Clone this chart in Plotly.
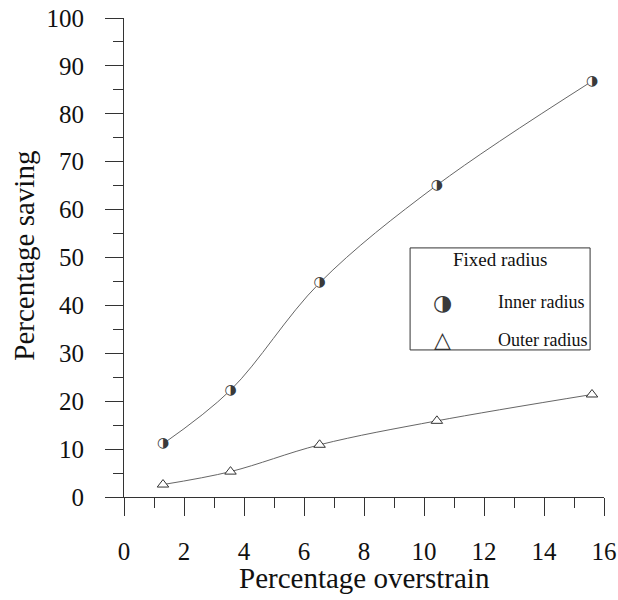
import plotly.graph_objects as go

# Data
overstrain = [1.3, 3.55, 6.52, 10.43, 15.6]
inner_saving = [11.1, 22.3, 44.7, 65.1, 86.8]
outer_saving = [2.6, 5.3, 10.9, 15.9, 21.4]

x_ticks = [0, 2, 4, 6, 8, 10, 12, 14, 16]
y_ticks = [0, 10, 20, 30, 40, 50, 60, 70, 80, 90, 100]

SERIF = "Liberation Serif, Times New Roman, serif"
INK = "#333333"
LINE = "#666666"

fig = go.Figure()

# Inner radius: spline line + white backing disc + half-filled circle glyph
fig.add_trace(go.Scatter(
    x=overstrain, y=inner_saving, mode="lines+markers+text",
    line=dict(shape="spline", color=LINE, width=1),
    marker=dict(symbol="circle", size=10, color="white", line=dict(width=0)),
    text=["◑"] * len(overstrain), textposition="middle center",
    textfont=dict(family="DejaVu Sans", size=14, color="#3a3a3a"),
    showlegend=False, hoverinfo="skip",
))

# Outer radius: spline line + open triangles
fig.add_trace(go.Scatter(
    x=overstrain, y=outer_saving, mode="lines+markers",
    line=dict(shape="spline", color=LINE, width=1),
    marker=dict(symbol="triangle-up", size=10, color="white",
                line=dict(width=1, color=INK)),
    showlegend=False, hoverinfo="skip",
))

axis_common = dict(
    showgrid=False, zeroline=False, showline=True, linecolor=INK, linewidth=1,
    ticks="outside", ticklen=18, tickwidth=1, tickcolor=INK, automargin=False,
    ticklabeloverflow="allow",
    tickfont=dict(family=SERIF, size=25, color="#111111"),
)

fig.update_xaxes(range=[0, 16], tickvals=x_ticks, ticklabelstandoff=14,
                 minor=dict(dtick=1, ticklen=10, ticks="outside", tickcolor=INK),
                 **axis_common)
fig.update_yaxes(range=[0, 100], tickvals=y_ticks, ticklabelstandoff=16,
                 minor=dict(dtick=5, ticklen=10, ticks="outside", tickcolor=INK),
                 **axis_common)

annotations = [
    dict(text="Percentage overstrain", x=0.5, y=-0.169, xref="paper", yref="paper",
         showarrow=False, xanchor="center", yanchor="middle",
         font=dict(family=SERIF, size=29, color="#111111")),
    dict(text="Percentage saving", x=-0.209, y=0.503, xref="paper", yref="paper",
         showarrow=False, xanchor="center", yanchor="middle", textangle=-90,
         font=dict(family=SERIF, size=29, color="#111111")),
    # legend contents
    dict(text="Fixed radius", x=0.783, y=0.495, xref="paper", yref="paper",
         showarrow=False, xanchor="center", yanchor="middle",
         font=dict(family=SERIF, size=19, color="#111111")),
    dict(text="Inner radius", x=0.775, y=0.407, xref="paper", yref="paper",
         showarrow=False, xanchor="left", yanchor="middle",
         font=dict(family=SERIF, size=18, color="#111111")),
    dict(text="Outer radius", x=0.775, y=0.328, xref="paper", yref="paper",
         showarrow=False, xanchor="left", yanchor="middle",
         font=dict(family=SERIF, size=18, color="#111111")),
    dict(text="◑", x=0.6625, y=0.407, xref="paper", yref="paper",
         showarrow=False, xanchor="center", yanchor="middle",
         font=dict(family="DejaVu Sans", size=22, color="#3a3a3a")),
    dict(text="△", x=0.6625, y=0.328, xref="paper", yref="paper",
         showarrow=False, xanchor="center", yanchor="middle",
         font=dict(family="DejaVu Sans", size=22, color=INK)),
]

fig.update_layout(
    width=618, height=600,
    margin=dict(l=124, r=14, t=18, b=103),
    paper_bgcolor="white", plot_bgcolor="white",
    showlegend=False,
    hovermode=False,
    annotations=annotations,
    shapes=[dict(type="rect", xref="paper", yref="paper",
                 x0=0.596, x1=0.971, y0=0.307, y1=0.52,
                 line=dict(color=INK, width=1), fillcolor="rgba(0,0,0,0)")],
)

# Remove the default page margin so the 618x600 figure fills the window exactly.
fig.write_html(
    "out.html",
    config={"displayModeBar": False},
    post_script="document.body.style.margin='0';"
                "document.body.style.overflow='hidden';"
                "document.documentElement.style.overflow='hidden';",
)
